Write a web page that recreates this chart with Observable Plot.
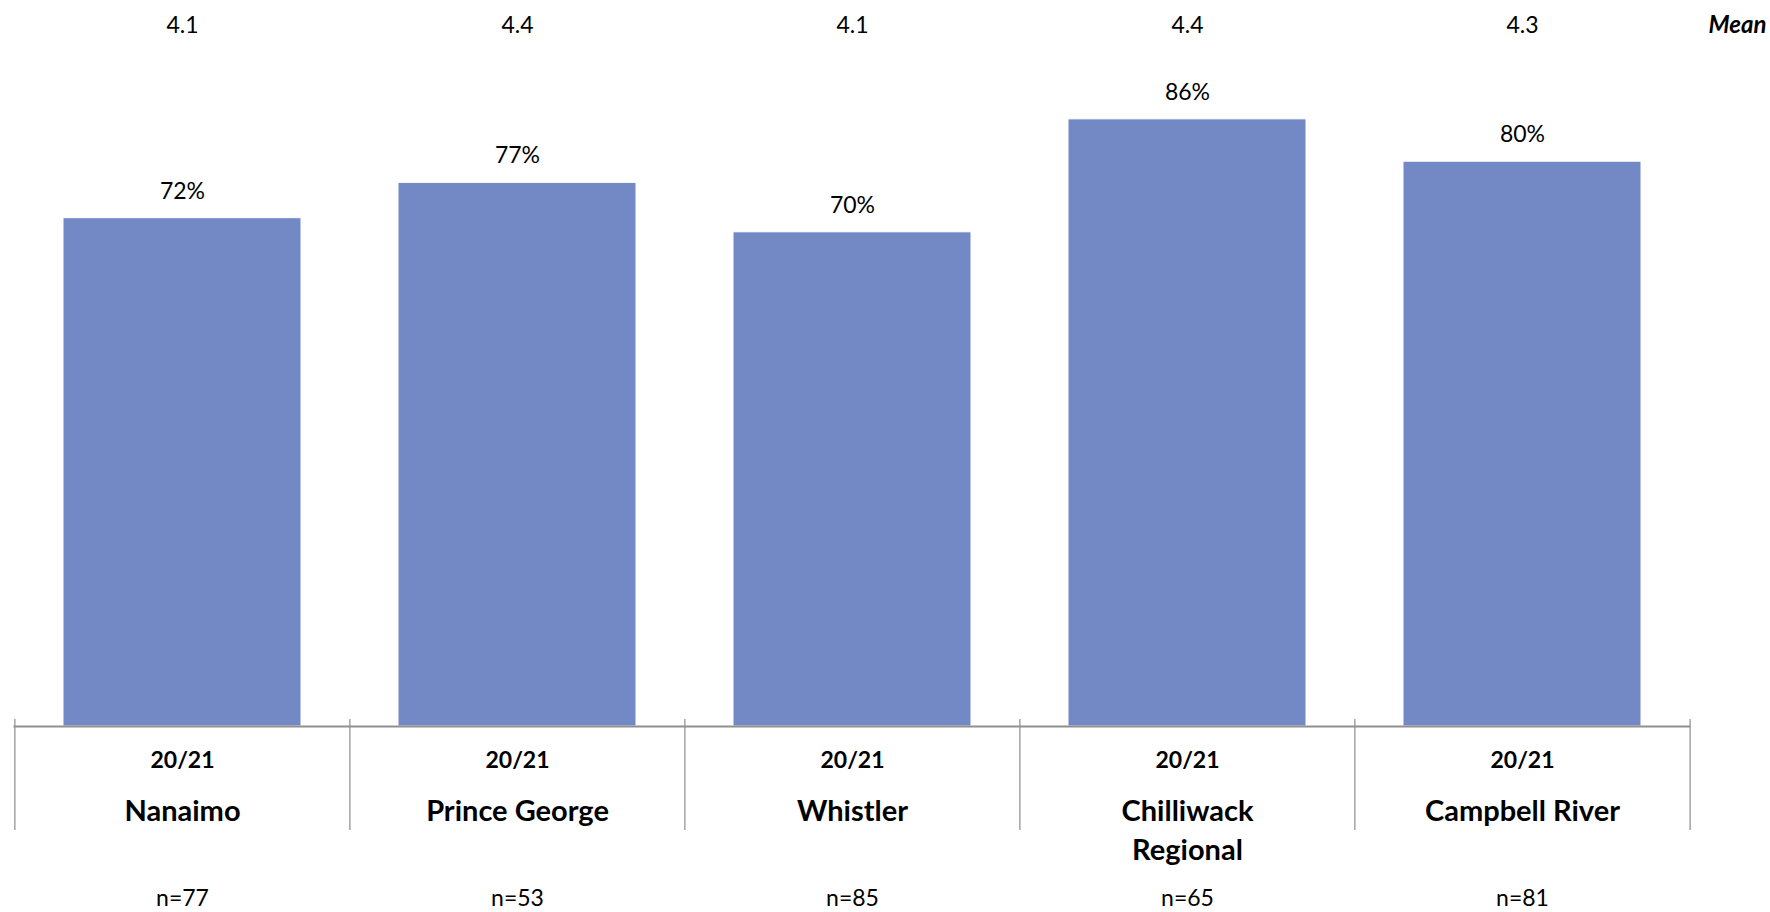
<!DOCTYPE html>
<html><head><meta charset="utf-8">
<script src="https://cdn.jsdelivr.net/npm/d3@7"></script>
<script src="https://cdn.jsdelivr.net/npm/@observablehq/plot@0.6"></script>
<style>
html,body{margin:0;padding:0;background:#fff;}
#chart svg{display:block;font-family:Lato,"Open Sans",sans-serif;color:#000;}
</style>
</head><body><div id="chart"></div>
<script>
const sites = ["Nanaimo", "Prince George", "Whistler", "Chilliwack Regional", "Campbell River"];
const siteLabels = ["Nanaimo", "Prince George", "Whistler", "Chilliwack\nRegional", "Campbell River"];
const periods = ["20/21", "20/21", "20/21", "20/21", "20/21"];
const pctValues = [72, 77, 70, 86, 80];
const meanValues = [4.1, 4.4, 4.1, 4.4, 4.3];
const nValues = [77, 53, 85, 65, 81];
const meanLabel = "Mean";

const rows = sites.map((s, i) => ({
  site: s, label: siteLabels[i], period: periods[i],
  pct: pctValues[i], mean: meanValues[i], n: nValues[i]
}));

const W = 1770, H = 912, mt = 20, mb = 186, ml = 13.5, mr = 80;
const step = (W - ml - mr) / sites.length;
const sepStyle = {stroke: "#a3a3a3", strokeWidth: 1.5, y1: 0, y2: 0, insetTop: -7, insetBottom: -104};

const chart = Plot.plot({
  width: W, height: H,
  marginTop: mt, marginBottom: mb, marginLeft: ml, marginRight: mr,
  x: {domain: sites, axis: null, paddingInner: 0.29, paddingOuter: 0.145},
  y: {domain: [0, 100], axis: null},
  marks: [
    Plot.barY(rows, {x: "site", y: "pct", fill: "#7389c6", stroke: "#ffffff", strokeWidth: 1}),
    Plot.ruleX(rows, {x: "site", dx: -step / 2, ...sepStyle}),
    Plot.ruleX(rows.slice(-1), {x: "site", dx: step / 2, ...sepStyle}),
    Plot.ruleY([0], {stroke: "#8f8f8f", strokeWidth: 2}),
    Plot.text(rows, {x: "site", y: "pct", text: d => d.pct + "%", dy: -27, fontSize: 23}),
    Plot.text(rows, {x: "site", text: d => d.mean.toFixed(1), frameAnchor: "top", lineAnchor: "middle", dy: 5, fontSize: 23}),
    Plot.text([meanLabel], {text: d => d, frameAnchor: "top-right", lineAnchor: "middle", textAnchor: "end", dx: 76, dy: 5, fontSize: 24, fontWeight: "bold", fontStyle: "italic"}),
    Plot.text(rows, {x: "site", text: "period", frameAnchor: "bottom", lineAnchor: "middle", dy: 34, fontSize: 23, fontWeight: "bold"}),
    Plot.text(rows, {x: "site", text: "label", frameAnchor: "bottom", lineAnchor: "top", dy: 66, lineHeight: 1.36, fontSize: 29, fontWeight: "bold"}),
    Plot.text(rows, {x: "site", text: d => "n=" + d.n, frameAnchor: "bottom", lineAnchor: "middle", dy: 172, fontSize: 23})
  ]
});
document.getElementById("chart").appendChild(chart);
</script>
</body></html>
